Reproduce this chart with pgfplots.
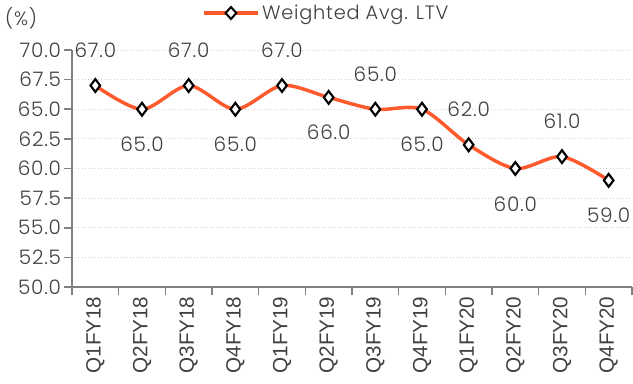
\documentclass[border=0pt]{standalone}
\usepackage{pgfplots}
\pgfplotsset{compat=1.18}
\usepackage{fontspec}
\setmainfont{Poppins}[UprightFont=* Light, LetterSpace=4]
\newfontfamily\xfont{Liberation Sans}
\definecolor{lineor}{HTML}{FF5A2D}
\definecolor{axgray}{HTML}{808080}
\definecolor{gridgray}{HTML}{D0D0D0}
\definecolor{txt}{HTML}{404040}
\begin{document}
\begin{tikzpicture}
\path[use as bounding box] (0,0) rectangle (474.75pt,287.25pt);
\begin{axis}[
  at={(54pt,72pt)}, anchor=south west,
  scale only axis, width=420pt, height=177.75pt,
  xmin=-0.5, xmax=11.5, ymin=50, ymax=70,
  ytick={50,52.5,...,70},
  /pgf/number format/fixed, /pgf/number format/fixed zerofill, /pgf/number format/precision=1,
  /pgf/number format/assume math mode=true,
  xtick={-0.5,0.5,...,11.5},
  x tick label as interval,
  xticklabels={Q1FY18,Q2FY18,Q3FY18,Q4FY18,Q1FY19,Q2FY19,Q3FY19,Q4FY19,Q1FY20,Q2FY20,Q3FY20,Q4FY20},
  xticklabel style={rotate=90, anchor=east, font=\xfont\fontsize{15.5}{15.5}\selectfont, text=txt, inner sep=1pt},
  yticklabel style={font=\fontsize{15}{15}\selectfont, text=txt, inner sep=2pt},
  tick align=outside, major tick length=6pt,
  axis x line*=bottom, axis y line*=left,
  axis line style={axgray, line width=1.2pt, -},
  tick style={axgray, line width=1.2pt},
  ymajorgrids, grid style={gridgray, dotted, line width=0.6pt},
  legend style={draw=none, at={(0.455,1.156)}, anchor=center, font=\fontsize{14.5}{14.5}\selectfont, text=txt, inner sep=0pt},
  legend image code/.code={
    \draw[lineor, line width=2.6pt] (0pt,0pt) -- (40pt,0pt);
    \draw[fill=white, draw=black, line width=1.5pt] (20pt,4.5pt) -- (24pt,0pt) -- (20pt,-4.5pt) -- (16pt,0pt) -- cycle;
  },
  clip=false,
]
\addplot[lineor, line width=2.6pt, smooth, tension=0.5,
  mark=diamond*, mark size=4.8pt, mark options={fill=white, draw=black, line width=1.6pt},
  nodes near coords,
  point meta=explicit,
  visualization depends on={\thisrow{pos} \as \pos},
  every node near coord/.append style={anchor=center, yshift=\pos*26.5pt, font=\fontsize{15}{15}\selectfont, text=txt},
] table[x=x, y=y, meta=y] {
x y pos
0 67 1
1 65 -1
2 67 1
3 65 -1
4 67 1
5 66 -1
6 65 1
7 65 -1
8 62 1
9 60 -1
10 61 1
11 59 -1
};
\addlegendentry{Weighted Avg. LTV}
\node[font=\fontsize{14.5}{14.5}\selectfont, text=txt] at (rel axis cs:-0.091,1.135) {(\%)};
\end{axis}
\end{tikzpicture}
\end{document}
